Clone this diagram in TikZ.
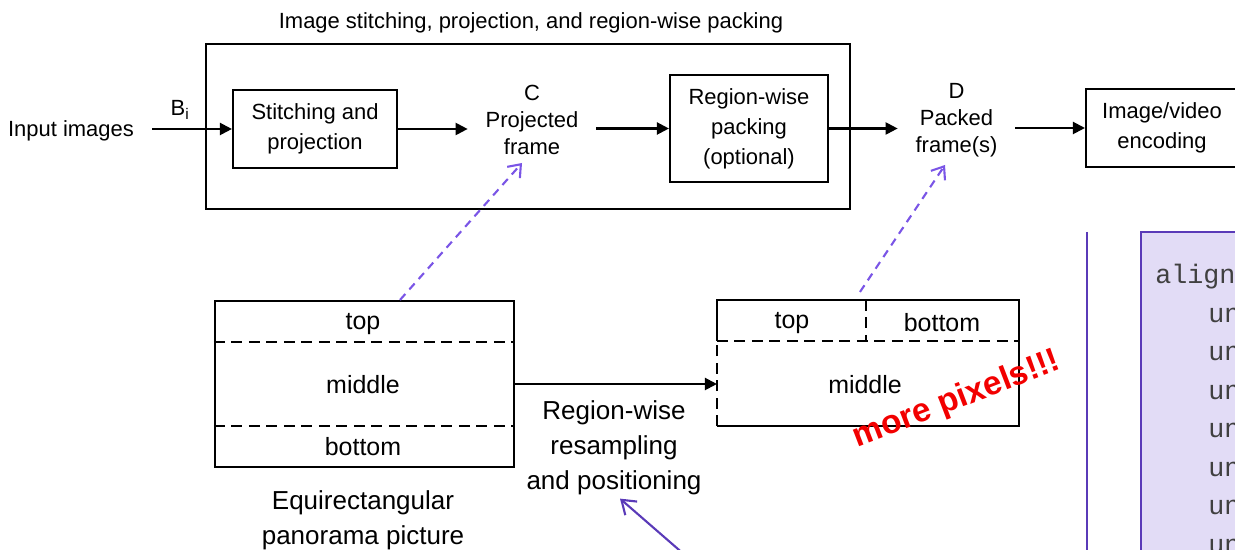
\documentclass[tikz,border=0pt]{standalone}
\usepackage{fontspec}
\setmainfont{Liberation Sans}
\setmonofont{Liberation Mono}
\usepackage{xcolor}
\usepackage{tikz}
\usetikzlibrary{positioning}
\usetikzlibrary{calc,arrows.meta}

\definecolor{LinkViolet}{HTML}{7A55E6}
\definecolor{DeepViolet}{HTML}{5A3AB8}
\definecolor{SyntaxFill}{HTML}{E2DCF6}
\definecolor{PixelRed}{HTML}{F20000}

\tikzset{
	block/.style={draw, line width=1.2pt, align=center, inner sep=0pt, font=\fontsize{12.5}{17}\selectfont},
	stage/.style={align=center, inner sep=0pt, font=\fontsize{12.5}{15.5}\selectfont},
	picture/.style={line width=1.2pt, inner sep=0pt},
	region/.style={inner sep=0pt, font=\fontsize{14.2}{17}\selectfont},
	caption/.style={align=center, inner sep=0pt, font=\fontsize{14.8}{20}\selectfont},
	cut/.style={line width=1.2pt, dash pattern=on 2.2mm off 1.3mm},
	flow/.style={line width=1.2pt, -{Triangle[length=2.4mm,width=2.4mm]}},
	hint/.style={LinkViolet, line width=1.2pt, dash pattern=on 1.6mm off 1.2mm, -{Straight Barb[length=2.2mm,width=3.4mm]}},
	pointer/.style={DeepViolet, line width=1.2pt, -{Straight Barb[length=2.6mm,width=3.6mm]}},
	codeline/.style={anchor=base west, inner sep=0pt, text=black!75, font=\ttfamily\fontsize{15.2}{15.2}\selectfont},
}

\begin{document}
\begin{tikzpicture}
	\useasboundingbox (0,0) rectangle (24.70,11.00);
	\clip (0,0) rectangle (24.70,11.00);

	% ---------------------
	% Stitching, projection and packing chain
	\node[block, minimum width=12.88cm, minimum height=3.30cm] (Outer) at (10.56,8.47) {};
	\node[inner sep=0pt, font=\fontsize{12.5}{15}\selectfont] (Title) at (10.62,10.54) {Image stitching, projection, and region-wise packing};

	\node[stage, minimum width=3.24cm] (InputImages) at (1.42,8.38) {Input images};
	\node[block, minimum width=3.28cm, minimum height=1.56cm] (Stitching) at (6.30,8.42) {Stitching and\\projection};
	\node[stage, minimum width=2.56cm] (Projected) at (10.64,8.60) {C\\Projected\\frame};
	\node[block, minimum width=3.16cm, minimum height=2.14cm] (Packing) at (14.98,8.43) {Region-wise\\packing\\(optional)};
	\node[stage, minimum width=2.34cm] (Packed) at (19.13,8.60) {D\\Packed\\frame(s)};
	\node[block, minimum width=3.04cm, minimum height=1.56cm] (Encoding) at (23.24,8.44) {Image/video\\encoding};

	\draw[flow] (InputImages.east |- Stitching.west) -- (Stitching.west)
		node[pos=0.35, above=5pt, inner sep=0pt, font=\fontsize{12.5}{15}\selectfont] {B\textsubscript{i}};
	\draw[flow] (Stitching.east) -- (Stitching.east -| Projected.west);
	\draw[flow] (Projected.east |- Packing.west) -- (Packing.west);
	\draw[flow] (Packing.east) -- (Packing.east -| Packed.west);
	\draw[flow] (Packed.east |- Encoding.west) -- (Encoding.west);

	% ---------------------
	% Equirectangular picture
	\node[picture, draw, minimum width=5.98cm, minimum height=3.32cm] (ErpPicture) at (7.29,3.32) {};
	\draw[cut] ($(ErpPicture.north west)+(0,-0.84)$) -- ($(ErpPicture.north east)+(0,-0.84)$);
	\draw[cut] ($(ErpPicture.south west)+(0,0.84)$) -- ($(ErpPicture.south east)+(0,0.84)$);
	\node[region] (ErpTop) at (7.26,4.52) {top};
	\node[region] (ErpMiddle) at (7.26,3.30) {middle};
	\node[region] (ErpBottom) at (7.26,2.06) {bottom};
	\node[caption] (ErpCaption) at (7.26,0.60) {Equirectangular\\panorama picture};

	% ---------------------
	% Packed picture
	\node[picture, minimum width=6.00cm, minimum height=2.48cm] (PackedPicture) at (17.36,3.74) {};
	\path (PackedPicture.north west) +(0,-0.82) coordinate (PackedSplitW);
	\path (PackedPicture.north east) +(0,-0.82) coordinate (PackedSplitE);
	\path (PackedPicture.north) +(-0.04,0) coordinate (PackedSplitN);
	\draw[line width=1.2pt] (PackedSplitW) -- (PackedPicture.north west) -- (PackedPicture.north east)
		-- (PackedPicture.south east) -- (PackedPicture.south west);
	\draw[cut] (PackedPicture.south west) -- (PackedSplitW);
	\draw[cut] (PackedSplitW) -- (PackedSplitE);
	\draw[cut] (PackedSplitN) -- (PackedSplitN |- PackedSplitW);
	\node[region] (PackedTop) at (15.84,4.54) {top};
	\node[region] (PackedBottom) at (18.84,4.54) {bottom};
	\node[region] (PackedMiddle) at (17.30,3.30) {middle};

	\draw[flow] (ErpPicture.east) -- (ErpPicture.east -| PackedPicture.west);
	\node[caption] (Resampling) at (12.28,2.04) {Region-wise\\resampling\\and positioning};

	\node[rotate=21, inner sep=0pt, text=PixelRed, font=\bfseries\fontsize{19}{19}\selectfont] (MorePixels) at (19.14,3.00) {more pixels!!!};

	% ---------------------
	% Dashed hints up to the frames
	\coordinate (ProjectedTip) at (10.44,7.74);
	\coordinate (PackedTip) at (18.90,7.70);
	\path (ErpPicture.north) +(0.71,0) coordinate (ErpHint);
	\path (PackedPicture.north) +(-0.16,0.16) coordinate (PackedHint);
	\draw[hint] (ErpHint) -- (ProjectedTip);
	\draw[hint] (PackedHint) -- (PackedTip);

	\coordinate (PointerStart) at (13.64,-0.05);
	\draw[pointer] (PointerStart) -- ([xshift=0.12cm,yshift=-0.06cm]Resampling.south);

	% ---------------------
	% Syntax panel
	\draw[DeepViolet, line width=1.5pt] (21.74,6.36) -- (21.74,-0.50);
	\node[draw=DeepViolet, fill=SyntaxFill, line width=1.2pt, anchor=north west,
		minimum width=4.00cm, minimum height=7.50cm] (Syntax) at (22.80,6.38) {};
	\node[codeline] (SyntaxHead) at (23.10,5.32) {aligned(8) class};
	\foreach \k in {1,...,7}
		\node[codeline] (SyntaxRow\k) at (24.16,{5.32-0.77*\k}) {unsigned int};

\end{tikzpicture}
\end{document}
